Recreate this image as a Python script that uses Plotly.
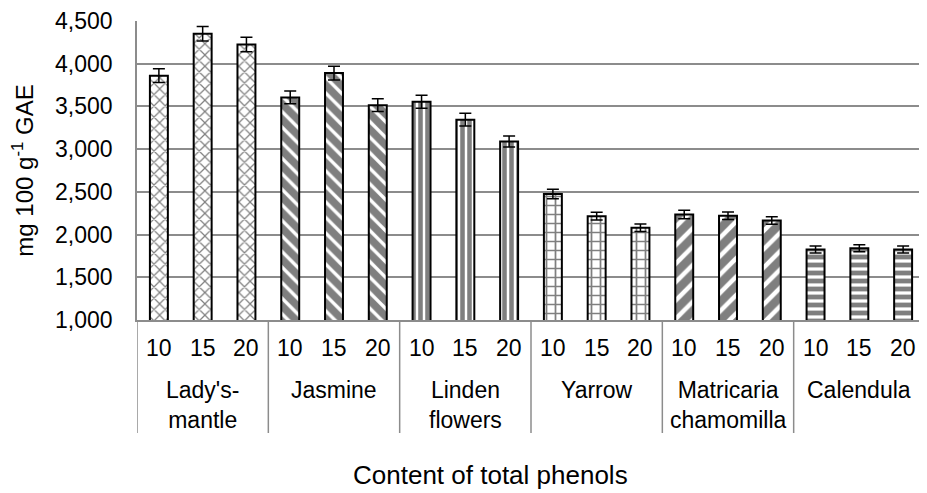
import plotly.graph_objects as go

plants = ["Lady's-<br>mantle", "Jasmine", "Linden<br>flowers", "Yarrow",
          "Matricaria<br>chamomilla", "Calendula"]
doses = ["10", "15", "20"]
values = [
    [3860, 4350, 4225],
    [3605, 3890, 3515],
    [3555, 3345, 3090],
    [2475, 2215, 2080],
    [2235, 2220, 2165],
    [1825, 1840, 1825],
]
errors = [
    [80, 85, 85],
    [75, 80, 75],
    [75, 75, 65],
    [55, 45, 45],
    [50, 45, 45],
    [40, 40, 40],
]
patterns = ["x", "\\", "|", "+", "/", "-"]
solidity = [0.28, 0.7, 0.65, 0.35, 0.65, 0.6]
psize = [8, 11, 7, 9, 13, 8]

n = len(doses)
fig = go.Figure()
for i, p in enumerate(plants):
    xs = [i * n + j for j in range(n)]
    fig.add_trace(go.Bar(
        x=xs,
        y=values[i],
        width=0.41,
        marker=dict(
            color="white",
            line=dict(color="black", width=2),
            pattern=dict(shape=patterns[i], fgcolor="black", bgcolor="white",
                         solidity=solidity[i], size=psize[i], fillmode="overlay"),
        ),
        error_y=dict(type="data", array=errors[i], color="black",
                     thickness=1.5, width=6),
        showlegend=False,
    ))
    for j, d in enumerate(doses):
        fig.add_annotation(x=xs[j], y=0, xref="x", yref="paper", text=d,
                           showarrow=False, yanchor="middle", yshift=-28,
                           font=dict(size=23))
    fig.add_annotation(x=xs[1], y=0, xref="x", yref="paper", text=p,
                       showarrow=False, yanchor="top", yshift=-55,
                       font=dict(size=23))
    fig.add_shape(type="line", xref="x", yref="paper",
                  x0=i * n - 0.5, x1=i * n - 0.5, y0=0, y1=-0.378,
                  line=dict(color="#8c8c8c", width=1.5))

fig.add_annotation(x=0.448, y=0, xref="paper", yref="paper",
                   text="Content of total phenols", showarrow=False,
                   yanchor="middle", yshift=-155, font=dict(size=26))

# page body has an 8px default margin, so the figure is sized to compensate
fig.update_layout(
    width=919, height=485,
    margin=dict(l=129, r=2, t=13, b=173),
    plot_bgcolor="white", paper_bgcolor="white",
    barmode="overlay",
    font=dict(family="Liberation Sans, Arial, sans-serif", size=23, color="black"),
)
fig.update_yaxes(
    range=[1000, 4500], dtick=500, tickformat=",",
    showgrid=True, gridcolor="#8c8c8c", gridwidth=1.5,
    showline=True, linecolor="#8c8c8c", linewidth=1.5,
    ticks="", automargin=False, ticklabelstandoff=18,
    title=dict(text="mg 100 g<sup>-1</sup> GAE", standoff=16, font=dict(size=24)),
)
fig.update_xaxes(
    range=[-0.5, len(plants) * n - 0.5],
    showticklabels=False, showgrid=False, zeroline=False,
    showline=True, linecolor="#8c8c8c", linewidth=1.5,
    ticks="", automargin=False,
)

fig.write_html("out.html")
